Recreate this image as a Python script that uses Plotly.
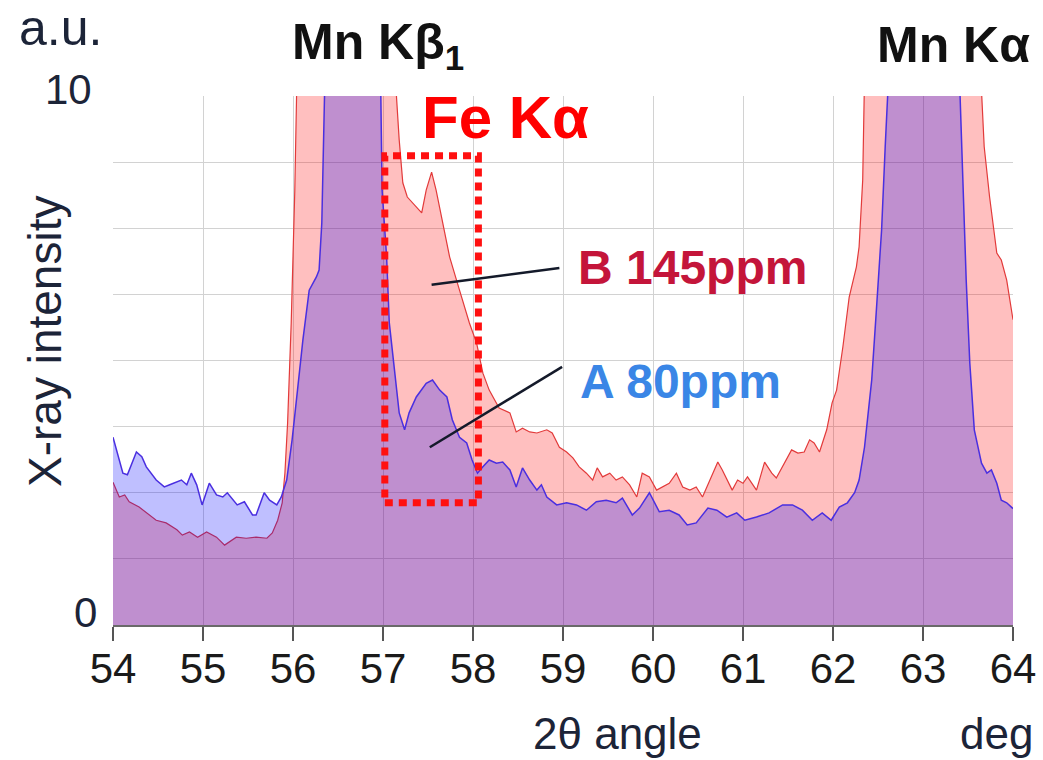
import plotly.graph_objects as go

# ---- data (2θ in deg, intensity in a.u.) ----
angle_A = [54.00, 54.11, 54.16, 54.26, 54.32, 54.37, 54.48, 54.57, 54.63, 54.76, 54.82, 54.87, 54.93, 54.99,
           55.07, 55.15, 55.22, 55.27, 55.38, 55.46, 55.55, 55.59, 55.68, 55.74, 55.82, 55.87, 55.93, 55.99,
           56.05, 56.11, 56.18, 56.26, 56.29, 56.32, 56.35, 56.45, 56.85, 56.96, 56.99, 57.04, 57.07, 57.13,
           57.18, 57.24, 57.29, 57.37, 57.48, 57.55, 57.63, 57.71, 57.77, 57.85, 57.93, 57.99, 58.05, 58.11,
           58.18, 58.26, 58.33, 58.41, 58.48, 58.55, 58.63, 58.71, 58.76, 58.82, 58.93, 59.04, 59.15, 59.26,
           59.37, 59.48, 59.59, 59.66, 59.77, 59.85, 59.96, 60.07, 60.18, 60.29, 60.38, 60.48, 60.61, 60.71,
           60.82, 60.93, 61.02, 61.15, 61.29, 61.44, 61.55, 61.66, 61.77, 61.88, 61.98, 62.07, 62.16, 62.24,
           62.29, 62.35, 62.43, 62.48, 62.54, 62.58, 62.61, 62.70, 63.35, 63.41, 63.44, 63.48, 63.52, 63.57,
           63.65, 63.71, 63.76, 63.82, 63.87, 63.93, 64.00]
intensity_A = [3.55, 2.87, 2.84, 3.27, 3.18, 2.99, 2.74, 2.61, 2.65, 2.74, 2.65, 2.87, 2.65, 2.27,
               2.68, 2.46, 2.42, 2.50, 2.27, 2.33, 2.08, 2.08, 2.50, 2.36, 2.27, 2.42, 2.74, 3.50,
               4.44, 5.39, 6.33, 6.58, 6.71, 7.60, 9.98, 20.0, 20.0, 12.0, 8.22, 6.96, 5.71, 4.76,
               4.01, 3.69, 4.01, 4.31, 4.57, 4.63, 4.44, 4.31, 3.88, 3.55, 3.44, 3.12, 2.87, 2.99,
               3.12, 3.06, 3.08, 2.93, 2.61, 2.97, 2.74, 2.55, 2.65, 2.42, 2.27, 2.31, 2.27, 2.17,
               2.33, 2.36, 2.31, 2.40, 2.08, 2.21, 2.50, 2.14, 2.17, 2.08, 1.89, 1.93, 2.21, 2.17,
               2.04, 2.12, 1.98, 2.04, 2.12, 2.27, 2.27, 2.17, 1.98, 2.12, 1.98, 2.23, 2.31, 2.50,
               2.74, 3.36, 4.63, 5.90, 7.47, 9.04, 10.10, 20.0, 20.0, 10.10, 8.41, 6.52, 4.95, 3.69,
               3.06, 2.87, 2.93, 2.68, 2.36, 2.31, 2.20]

angle_B = [54.00, 54.07, 54.13, 54.18, 54.29, 54.37, 54.48, 54.59, 54.71, 54.77, 54.85, 54.94, 55.04,
           55.15, 55.24, 55.37, 55.48, 55.59, 55.71, 55.77, 55.83, 55.88, 55.91, 55.94, 55.98, 56.02,
           56.05, 56.15, 57.00, 57.13, 57.15, 57.18, 57.22, 57.27, 57.33, 57.43, 57.48, 57.54, 57.59,
           57.66, 57.74, 57.85, 57.96, 58.04, 58.11, 58.18, 58.29, 58.41, 58.48, 58.55, 58.63, 58.71,
           58.82, 58.88, 58.96, 59.04, 59.11, 59.18, 59.26, 59.33, 59.38, 59.44, 59.52, 59.59, 59.66,
           59.74, 59.82, 59.88, 59.96, 60.04, 60.11, 60.18, 60.26, 60.33, 60.41, 60.48, 60.55, 60.63,
           60.72, 60.77, 60.88, 60.94, 61.00, 61.05, 61.15, 61.24, 61.32, 61.37, 61.48, 61.54, 61.61,
           61.68, 61.74, 61.79, 61.85, 61.93, 61.99, 62.04, 62.11, 62.18, 62.26, 62.29, 62.33, 62.35,
           62.45, 63.55, 63.65, 63.68, 63.74, 63.82, 63.87, 63.93, 63.96, 64.00]
intensity_B = [2.70, 2.42, 2.46, 2.33, 2.23, 2.12, 1.98, 1.93, 1.80, 1.70, 1.76, 1.66, 1.76,
               1.66, 1.51, 1.66, 1.64, 1.66, 1.64, 1.74, 1.98, 2.31, 2.87, 3.82, 5.71, 8.22,
               9.98, 20.0, 20.0, 11.0, 9.98, 9.17, 8.36, 8.09, 7.98, 7.79, 8.22, 8.56, 8.22,
               7.60, 6.96, 6.33, 5.71, 5.33, 4.76, 4.44, 4.10, 4.01, 3.65, 3.72, 3.65, 3.63,
               3.69, 3.63, 3.36, 3.27, 3.16, 2.99, 2.87, 2.74, 2.97, 2.80, 2.87, 2.74, 2.80,
               2.65, 2.42, 2.87, 2.80, 2.55, 2.61, 2.68, 2.87, 2.61, 2.55, 2.61, 2.42, 2.74,
               3.08, 2.93, 2.55, 2.74, 2.68, 2.80, 2.55, 3.08, 2.87, 2.78, 3.12, 3.31, 3.25,
               3.27, 3.50, 3.44, 3.27, 3.69, 4.20, 4.44, 5.26, 6.20, 6.77, 7.15, 8.41, 10.10,
               20.0, 20.0, 10.10, 9.04, 8.09, 7.03, 6.90, 6.52, 6.20, 5.77]

x_ticks = [54, 55, 56, 57, 58, 59, 60, 61, 62, 63, 64]
y_grid = [0, 1.25, 2.5, 3.75, 5.0, 6.25, 7.5, 8.75]

# Fe Kα highlight box and leader lines (data coordinates)
box = dict(x0=57.02, x1=58.06, y0=2.31, y1=8.87)
leader_B = dict(x0=57.54, y0=6.43, x1=58.96, y1=6.75)
leader_A = dict(x0=57.52, y0=3.36, x1=58.99, y1=4.88)

W, H = 1043, 760
L, R, T, B = 113, 30, 96, 135
PW, PH = W - L - R, H - T - B


def px(x):
    return (x - L) / PW


def py(y):
    return (H - B - y) / PH


fig = go.Figure()
fig.add_trace(go.Scatter(x=angle_B, y=intensity_B, mode="lines", fill="tozeroy",
                         fillcolor="rgba(255,0,0,0.25)",
                         line=dict(color="#E23A3A", width=1.2), name="B 145ppm"))
fig.add_trace(go.Scatter(x=angle_A, y=intensity_A, mode="lines", fill="tozeroy",
                         fillcolor="rgba(0,0,255,0.25)",
                         line=dict(color="#4A2FE0", width=1.5), name="A 80ppm"))

fig.add_shape(type="rect", xref="x", yref="y", **box,
              line=dict(color="#FF1010", width=7, dash="8px,6px"), layer="above")
fig.add_shape(type="line", xref="x", yref="y", **leader_B,
              line=dict(color="#141a2a", width=2.5), layer="above")
fig.add_shape(type="line", xref="x", yref="y", **leader_A,
              line=dict(color="#141a2a", width=2.5), layer="above")

axis_font = "Liberation Sans, Arial, sans-serif"
dark = "#1c2438"
ann = []


def add_text(text, x, y, size, color, bold=False, angle=0):
    ann.append(dict(text=(f"<b>{text}</b>" if bold else text), x=px(x), y=py(y),
                    xref="paper", yref="paper", showarrow=False, textangle=angle,
                    xanchor="center", yanchor="middle",
                    font=dict(size=size, color=color, family=axis_font)))


add_text("a.u.", 60, 28, 50, dark)
add_text("10", 68, 89, 42, dark)
add_text("0", 85, 612, 42, dark)
add_text("X-ray intensity", 45, 342, 46, dark, angle=-90)
add_text("2θ angle", 617, 733, 44, dark)
add_text("deg", 996, 733, 44, dark)
add_text("Mn Kβ<sub>1</sub>", 378, 46, 50, "#111111", bold=True)
add_text("Mn Kα", 953, 45, 50, "#111111", bold=True)
add_text("Fe Kα", 505, 118, 60, "#FF0000", bold=True)
add_text("B 145ppm", 692, 267, 48, "#C4153A", bold=True)
add_text("A 80ppm", 680, 381, 48, "#3A86E6", bold=True)

fig.update_layout(
    width=W, height=H,
    margin=dict(l=L, r=R, t=T, b=B, autoexpand=False),
    paper_bgcolor="white", plot_bgcolor="white",
    showlegend=False,
    annotations=ann,
    xaxis=dict(range=[54, 64], tickvals=x_ticks, ticks="outside", ticklen=14,
               tickcolor="#555555", tickwidth=1.5, showgrid=True, gridcolor="#D2D2D2",
               gridwidth=1, showline=True, linecolor="#6a6a6a", linewidth=1.5,
               zeroline=False, ticklabelstandoff=-8, automargin=False,
               tickfont=dict(size=42, color="#1a1a1a", family=axis_font)),
    yaxis=dict(range=[0, 10], tickvals=y_grid, showticklabels=False, ticks="",
               showgrid=True, gridcolor="#D2D2D2", gridwidth=1, zeroline=False,
               showline=False, automargin=False),
)

fig.write_html("out.html")
